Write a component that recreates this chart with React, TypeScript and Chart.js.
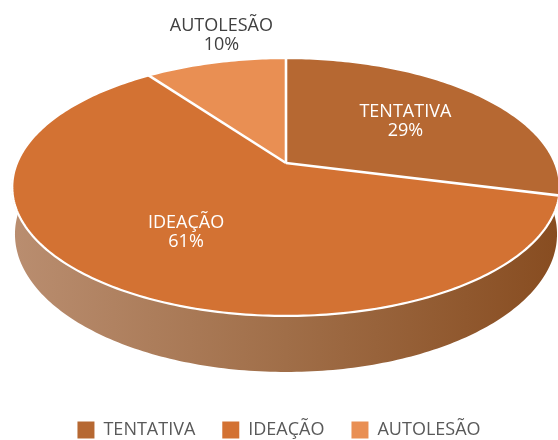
import { useEffect, useRef } from "react";
import { Chart, registerables } from "chart.js";

Chart.register(...registerables);

// ---- data ----
const categories = ["TENTATIVA", "IDEAÇÃO", "AUTOLESÃO"];
const values = [29, 61, 10];
const sliceColors = ["#B66832", "#D37233", "#E98F53"];
const labelInside = [true, true, false];

// ---- layout / styling ----
const W = 558;
const H = 440;
const X0 = 286; // projected apex x
const Y0 = 163; // projected apex y
const AX = 269; // horizontal radius factor
const BY = 124.5; // vertical radius factor
const PERS = -0.186; // perspective factor
const DEPTH = 45.6; // side depth
const BOTTOM_SHRINK = 0.99;
const LEGEND_H = 46;
const FONT = '"Open Sans", "Noto Sans", sans-serif';

function proj(u: number, v: number): [number, number] {
  const q = 1 + PERS * v;
  return [X0 + (AX * u) / q, Y0 + (BY * v) / q];
}
function projBottom(u: number, v: number): [number, number] {
  const [x, y] = proj(u, v);
  const q = 1 + PERS * v;
  return [X0 + (x - X0) * BOTTOM_SHRINK, y + DEPTH / q];
}
function vOf(y: number) {
  const d = y - Y0;
  return d / (BY - PERS * d);
}

const pie3d = {
  id: "pie3d",
  beforeUpdate(chart: any) {
    const lg = chart.legend;
    if (lg && !lg.__patched) {
      const orig = lg.fit.bind(lg);
      lg.fit = function () {
        orig();
        this.height = LEGEND_H;
      };
      lg.__patched = true;
    }
  },
  afterDatasetsDraw(chart: any) {
    const meta = chart.getDatasetMeta(0);
    const arcs = meta.data;
    if (!arcs.length) return;
    const p = arcs[0].getProps(["x", "y", "outerRadius"], true);
    const ccx = p.x, ccy = p.y, r = p.outerRadius;
    const canvas = chart.canvas as HTMLCanvasElement;
    const ctx = chart.ctx as CanvasRenderingContext2D;
    const top = chart.legend ? chart.legend.top : H;

    const src = document.createElement("canvas");
    src.width = canvas.width;
    src.height = canvas.height;
    src.getContext("2d")!.drawImage(canvas, 0, 0);

    ctx.save();
    ctx.setTransform(1, 0, 0, 1, 0, 0);
    ctx.clearRect(0, 0, canvas.width, top);

    // side band
    const grad = ctx.createLinearGradient(X0 - AX, 0, X0 + AX, 0);
    grad.addColorStop(0, "#B98D6F");
    grad.addColorStop(0.5, "#A06E48");
    grad.addColorStop(1, "#884D21");
    ctx.fillStyle = grad;
    ctx.beginPath();
    const N = 240;
    const a0 = -0.35, a1 = Math.PI + 0.35;
    for (let i = 0; i < N; i++) {
      const aa = a0 + ((a1 - a0) * i) / N;
      const ab = a0 + ((a1 - a0) * (i + 1)) / N;
      const t1 = proj(Math.cos(aa), Math.sin(aa));
      const t2 = proj(Math.cos(ab), Math.sin(ab));
      const b2 = projBottom(Math.cos(ab), Math.sin(ab));
      const b1 = projBottom(Math.cos(aa), Math.sin(aa));
      ctx.moveTo(t1[0], t1[1]);
      ctx.lineTo(t2[0], t2[1]);
      ctx.lineTo(b2[0], b2[1]);
      ctx.lineTo(b1[0], b1[1]);
      ctx.closePath();
    }
    ctx.fill("nonzero");

    // top face: warp library-drawn pie rows into perspective
    ctx.imageSmoothingEnabled = true;
    const yTop = Math.floor(proj(0, -1)[1]) - 1;
    const yBot = Math.ceil(proj(0, 1)[1]) + 1;
    for (let yd = yTop; yd <= yBot; yd++) {
      const v0 = vOf(yd), v1 = vOf(yd + 1);
      if (v1 < -1 || v0 > 1) continue;
      const vm = (Math.max(-1, v0) + Math.min(1, v1)) / 2;
      const f = 1 / (1 + PERS * vm);
      const sy0 = ccy + r * v0, sy1 = ccy + r * v1;
      ctx.drawImage(src, ccx - r, sy0, 2 * r, sy1 - sy0, X0 - AX * f, yd, 2 * AX * f, 1);
    }

    // rim
    ctx.strokeStyle = "#FFFFFF";
    ctx.lineWidth = 2.2;
    ctx.beginPath();
    for (let i = 0; i <= 360; i++) {
      const a = (i / 360) * Math.PI * 2;
      const pt = proj(Math.cos(a), Math.sin(a));
      if (i === 0) ctx.moveTo(pt[0], pt[1]);
      else ctx.lineTo(pt[0], pt[1]);
    }
    ctx.stroke();

    // separators
    ctx.lineWidth = 2.6;
    const apex = proj(0, 0);
    arcs.forEach((arc: any) => {
      const a = arc.startAngle;
      const e = proj(Math.cos(a), Math.sin(a));
      ctx.beginPath();
      ctx.moveTo(apex[0], apex[1]);
      ctx.lineTo(e[0], e[1]);
      ctx.stroke();
    });

    // labels
    const total = values.reduce((s, x) => s + x, 0);
    ctx.font = `18px ${FONT}`;
    ctx.textAlign = "center";
    ctx.textBaseline = "alphabetic";
    arcs.forEach((arc: any, i: number) => {
      const mid = (arc.startAngle + arc.endAngle) / 2;
      const pct = Math.round((values[i] / total) * 100) + "%";
      if (labelInside[i]) {
        const [lx, ly] = proj(0.6 * Math.cos(mid), 0.6 * Math.sin(mid));
        ctx.fillStyle = "#FFFFFF";
        ctx.fillText(categories[i], lx, ly - 3.5);
        ctx.fillText(pct, lx, ly + 15.5);
      } else {
        const [ax, ay] = proj(Math.cos(mid), Math.sin(mid));
        ctx.fillStyle = "#404040";
        ctx.fillText(categories[i], ax + 6, ay - 31);
        ctx.fillText(pct, ax + 6, ay - 12);
      }
    });
    ctx.restore();
  },
};

export default function App() {
  const ref = useRef<HTMLCanvasElement>(null);
  useEffect(() => {
    const chart = new Chart(ref.current!, {
      type: "pie",
      data: {
        labels: categories,
        datasets: [
          {
            data: values,
            backgroundColor: sliceColors,
            borderWidth: 0,
          },
        ],
      },
      options: {
        responsive: false,
        maintainAspectRatio: false,
        animation: false,
        devicePixelRatio: 1,
        layout: { padding: 0 },
        plugins: {
          tooltip: { enabled: false },
          legend: {
            position: "bottom",
            labels: {
              boxWidth: 17,
              boxHeight: 17,
              padding: 27,
              color: "#595959",
              font: { family: FONT, size: 18 },
            },
          },
        },
      },
      plugins: [pie3d],
    } as any);
    return () => chart.destroy();
  }, []);
  return (
    <div style={{ position: "absolute", left: 0, top: 0, width: W, height: H, background: "#FFFFFF" }}>
      <canvas ref={ref} width={W} height={H} style={{ display: "block", width: W, height: H }} />
    </div>
  );
}
